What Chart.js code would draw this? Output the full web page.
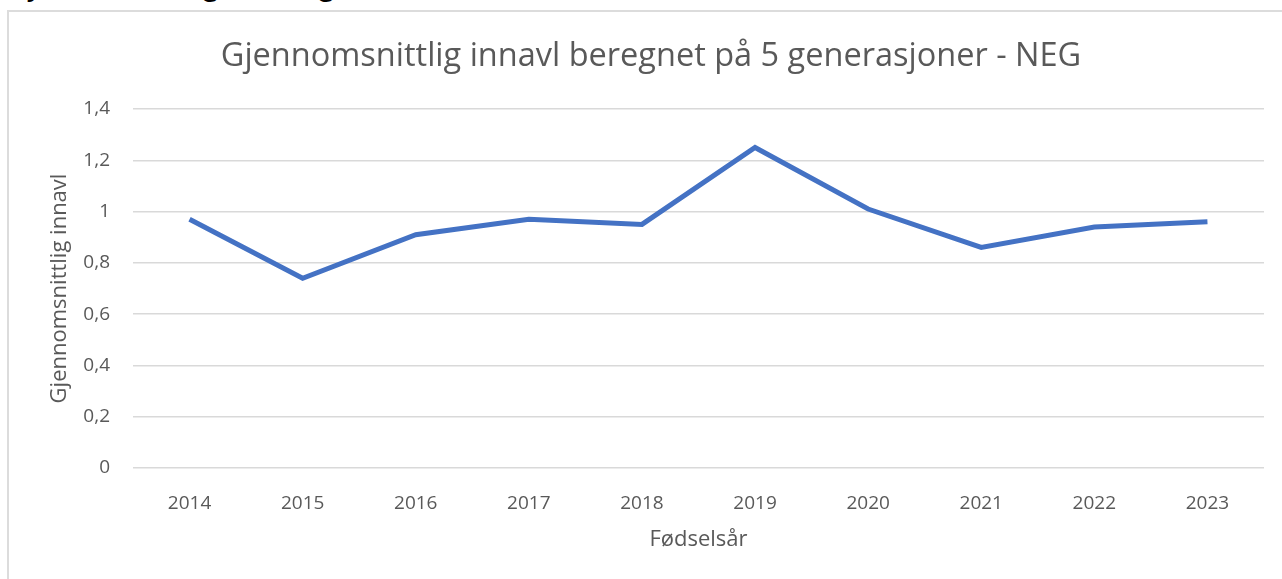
<!DOCTYPE html>
<html>
<head>
<meta charset="utf-8">
<script src="https://cdn.jsdelivr.net/npm/chart.js@4"></script>
<style>
  html, body { margin: 0; padding: 0; background: #fff; overflow: hidden; }
  #heading {
    position: absolute; left: 7px; top: -33px; line-height: 30px;
    font: bold 30px Lato, sans-serif; color: #000; white-space: nowrap;
  }
  #frame {
    position: absolute; left: 7px; top: 10px; width: 1300px; height: 600px;
    border: 2px solid #dcdcdc; box-sizing: border-box;
  }
  #innavlChart { position: absolute; left: 0; top: 0; }
</style>
</head>
<body>
<div id="heading">Gjennomsnittlig innavlsgrad</div>
<div id="frame"></div>
<canvas id="innavlChart" width="1282" height="579"></canvas>
<script>
// Fødselsår and average inbreeding (5 generations)
const years = ['2014', '2015', '2016', '2017', '2018', '2019', '2020', '2021', '2022', '2023'];
const innavl = [0.97, 0.74, 0.91, 0.97, 0.95, 1.25, 1.01, 0.86, 0.94, 0.96];

const textColor = '#595959';
const gridColor = '#d9d9d9';
const fontFamily = '"Open Sans", sans-serif';

const innavlChart = new Chart(document.getElementById('innavlChart').getContext('2d'), {
    type: 'line',
    data: {
        labels: years,
        datasets: [
            {
                label: 'Gjennomsnittlig innavl',
                data: innavl,
                borderColor: '#4472C4',
                borderWidth: 5,
                pointRadius: 0,
                tension: 0,
                fill: false,
            },
        ],
    },
    options: {
        responsive: false,
        animation: false,
        layout: {
            padding: { left: 38, right: 18, top: 0, bottom: 0 },
        },
        plugins: {
            legend: { display: false },
            tooltip: { enabled: false },
            title: {
                display: true,
                text: 'Gjennomsnittlig innavl beregnet på 5 generasjoner - NEG',
                color: textColor,
                font: { family: fontFamily, size: 32.5, weight: 'normal' },
                padding: { top: 37, bottom: 33 },
            },
        },
        scales: {
            x: {
                offset: true,
                grid: { display: false },
                border: { display: false },
                ticks: {
                    color: textColor,
                    font: { family: fontFamily, size: 19 },
                    padding: 16,
                },
                title: {
                    display: true,
                    text: 'Fødselsår',
                    color: textColor,
                    font: { family: fontFamily, size: 22 },
                    padding: { top: 0, bottom: 26 },
                },
                afterFit: function(scale) {
                    scale.height = 111;
                },
            },
            y: {
                min: 0,
                max: 1.4,
                ticks: {
                    stepSize: 0.2,
                    color: textColor,
                    font: { family: fontFamily, size: 19 },
                    padding: 23,
                    callback: function(value) {
                        // Norwegian decimal comma
                        return (Math.round(value * 10) / 10).toString().replace('.', ',');
                    },
                },
                grid: {
                    color: gridColor,
                    lineWidth: 1.5,
                    drawTicks: false,
                },
                border: { display: false },
                title: {
                    display: true,
                    text: 'Gjennomsnittlig innavl',
                    color: textColor,
                    font: { family: fontFamily, size: 22 },
                    padding: { top: 9, bottom: 0 },
                },
                afterFit: function(scale) {
                    scale.width = 95;
                },
            },
        },
    },
});
</script>
</body>
</html>
